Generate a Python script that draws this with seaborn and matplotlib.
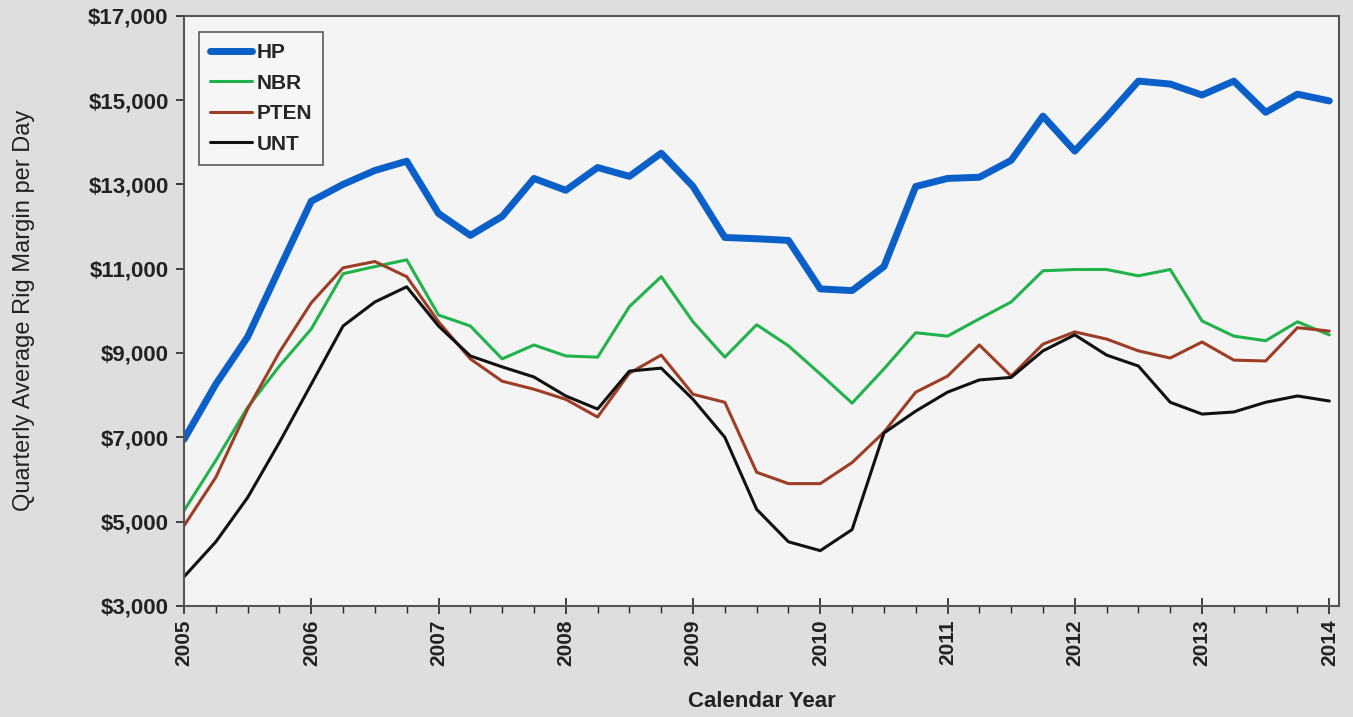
import numpy as np
import pandas as pd
import matplotlib
matplotlib.use("Agg")
import matplotlib.pyplot as plt
from matplotlib.ticker import MultipleLocator, FuncFormatter
import seaborn as sns

# quarterly points, 2005 Q1 .. 2014 Q1
quarters = np.arange(2005, 2014.01, 0.25)

hp = [6950, 8260, 9380, 11000, 12600, 13000, 13330, 13550, 12310, 11790,
      12240, 13140, 12860, 13400, 13190, 13740, 12950, 11740, 11710, 11670,
      10520, 10480, 11050, 12950, 13140, 13170, 13570, 14620, 13790, 14600,
      15450, 15380, 15120, 15450, 14710, 15140, 14980]
nbr = [5260, 6450, 7710, 8690, 9570, 10880, 11050, 11210, 9900, 9640,
       8860, 9190, 8930, 8900, 10100, 10810, 9740, 8900, 9670, 9170,
       8500, 7810, 8620, 9480, 9400, 9810, 10210, 10950, 10980, 10980,
       10830, 10980, 9760, 9400, 9290, 9740, 9430]
pten = [4900, 6050, 7670, 9020, 10190, 11020, 11170, 10810, 9740, 8860,
        8330, 8140, 7900, 7480, 8520, 8950, 8020, 7830, 6170, 5900,
        5900, 6400, 7120, 8070, 8450, 9190, 8450, 9210, 9500, 9330,
        9050, 8880, 9260, 8830, 8810, 9600, 9520]
unt = [3690, 4520, 5570, 6880, 8260, 9640, 10210, 10570, 9640, 8930,
       8670, 8430, 7980, 7670, 8570, 8640, 7900, 7000, 5290, 4520,
       4310, 4810, 7100, 7620, 8070, 8360, 8420, 9050, 9430, 8950,
       8690, 7830, 7550, 7600, 7830, 7980, 7860]

y_ticks = [3000, 5000, 7000, 9000, 11000, 13000, 15000, 17000]

series = {"HP": hp, "NBR": nbr, "PTEN": pten, "UNT": unt}
colors = {"HP": "#0a5fc8", "NBR": "#21b24b", "PTEN": "#9e3d26", "UNT": "#111111"}
widths = {"HP": 5.0, "NBR": 2.2, "PTEN": 2.2, "UNT": 2.2}

sns.set_style("white")
plt.rcParams["font.family"] = ["Liberation Sans", "DejaVu Sans"]

fig = plt.figure(figsize=(13.53, 7.17), dpi=100, facecolor="#dedede")
ax = fig.add_axes([0.136, 0.155, 0.854, 0.823])
ax.set_facecolor("#f4f4f4")

for name, vals in series.items():
    d = pd.DataFrame({"year": quarters, "margin": vals})
    sns.lineplot(data=d, x="year", y="margin", ax=ax, color=colors[name],
                 linewidth=widths[name], label=name)

ax.set_xlim(2005, 2014.08)
ax.set_ylim(3000, 17000)
ax.xaxis.set_major_locator(MultipleLocator(1))
ax.xaxis.set_minor_locator(MultipleLocator(0.25))
ax.set_yticks(y_ticks)
ax.xaxis.set_major_formatter(FuncFormatter(lambda v, p: f"{int(round(v))}"))
ax.yaxis.set_major_formatter(FuncFormatter(lambda v, p: f"${v:,.0f}"))

ax.tick_params(axis="x", which="major", direction="inout", length=12, width=1.2,
               labelsize=15, rotation=90, pad=4)
ax.tick_params(axis="x", which="minor", direction="out", length=5, width=1)
ax.tick_params(axis="y", which="major", direction="out", length=6, width=1.2,
               labelsize=16, pad=5)
ax.tick_params(bottom=True, left=True, which="both")
for lbl in ax.get_xticklabels() + ax.get_yticklabels():
    lbl.set_fontweight("bold")
    lbl.set_color("#222222")

for s in ax.spines.values():
    s.set_color("#555555")
    s.set_linewidth(1.5)

ax.set_xlabel("Calendar Year", fontsize=16, fontweight="bold", color="#222222", labelpad=18)
ax.set_ylabel("Quarterly Average Rig Margin per Day", fontsize=17, color="#222222",
              labelpad=38)

leg = ax.legend(loc="upper left", bbox_to_anchor=(0.013, 0.973), fontsize=15,
                frameon=True, fancybox=False, edgecolor="#333333", handlelength=2.0,
                labelspacing=0.55, borderpad=0.55, handletextpad=0.2, borderaxespad=0)
leg.get_frame().set_linewidth(1.2)
leg.get_frame().set_facecolor("#f7f7f7")
for t in leg.get_texts():
    t.set_fontweight("bold")

fig.savefig("out.png", dpi=100, facecolor=fig.get_facecolor())
